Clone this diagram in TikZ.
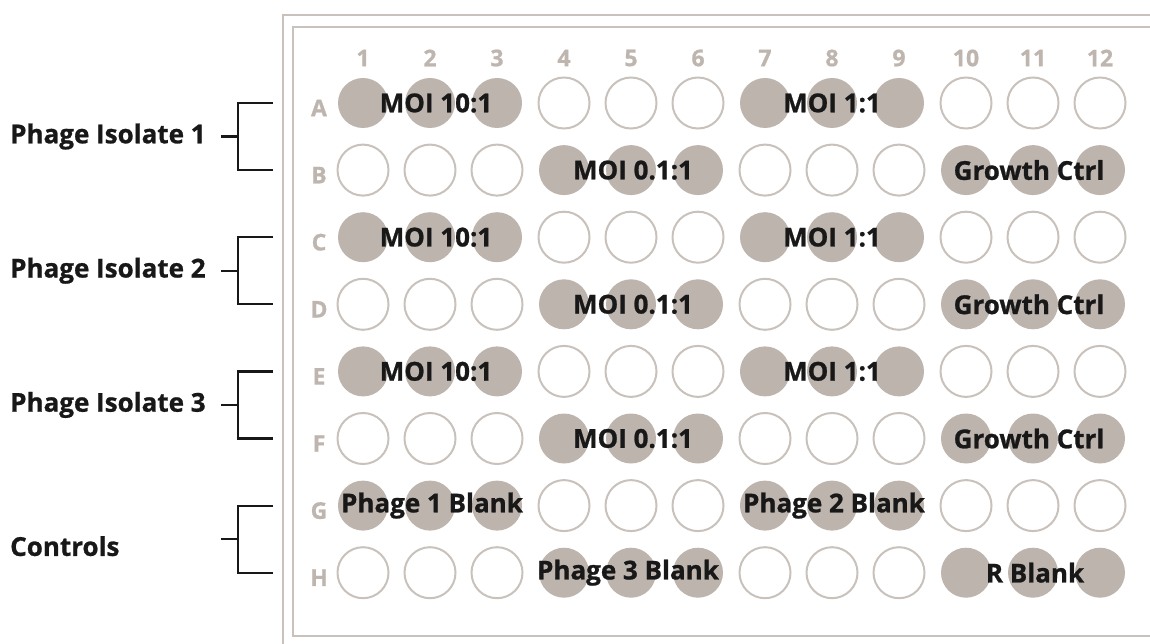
\documentclass[tikz,border=0pt]{standalone}
\usepackage{fontspec}
\setmainfont{Open Sans}[BoldFeatures={FakeBold=0.9}]
\usetikzlibrary{calc}
\definecolor{wellfill}{RGB}{189,180,174}
\definecolor{plateline}{RGB}{200,193,188}
\definecolor{indexgray}{RGB}{190,181,175}
\definecolor{ink}{RGB}{24,24,24}
\tikzset{
  wellfull/.style={circle, fill=wellfill, minimum size=50pt, inner sep=0pt},
  wellempty/.style={circle, draw=plateline, line width=2pt, minimum size=51pt, inner sep=0pt},
  welltext/.style={text=ink, font=\bfseries\fontsize{26}{26}\selectfont, inner sep=0pt},
  indexlabel/.style={text=indexgray, font=\bfseries\fontsize{23}{23}\selectfont, inner sep=0pt},
  grouplabel/.style={text=ink, font=\bfseries\fontsize{26}{26}\selectfont, inner sep=0pt, anchor=west},
  frame/.style={plateline, line width=2.5pt},
  bracketline/.style={ink, line width=2.2pt}
}
\begin{document}
\begin{tikzpicture}[x=1pt, y=-1pt]
\useasboundingbox (0,0) rectangle (1150,644);

% plate outline, outer and inner rim
\draw[frame] (1160,15) -- (283,15) -- (283,660);
\draw[frame] (1160,27) -- (293,27) -- (293,636) -- (1160,636);

% column numbers
\foreach \c in {1,...,12} {
  \node[indexlabel] (col\c) at ({363+67*(\c-1)},58) {\c};
}
% row letters and wells
\foreach \L [count=\i from 1] in {A,B,C,D,E,F,G,H} {
  \node[indexlabel] (row\L) at (319,{108+67.1*(\i-1)}) {\L};
  \foreach \c in {1,...,12} {
    \pgfmathtruncatemacro{\blk}{mod(floor((\c-1)/3)+\i+1,2)}
    \ifnum\blk=0
      \node[wellfull] (w\L\c) at ({363+67*(\c-1)},{103+67.1*(\i-1)}) {};
    \else
      \node[wellempty] (w\L\c) at ({363+67*(\c-1)},{103+67.1*(\i-1)}) {};
    \fi
  }
}

% treatment labels over filled wells
\foreach \L in {A,C,E} {
  \node[welltext] at ([xshift=6pt]w\L2) {MOI 10:1};
  \node[welltext] at ([xshift=0pt]w\L8) {MOI 1:1};
}
\foreach \L in {B,D,F} {
  \node[welltext] at ([xshift=2pt]w\L5) {MOI 0.1:1};
  \node[welltext] at ([xshift=-4pt]w\L11) {Growth Ctrl};
}
\node[welltext] at ([xshift=2pt]wG2) {Phage 1 Blank};
\node[welltext] at ([xshift=2pt]wG8) {Phage 2 Blank};
\node[welltext] at ([xshift=-3pt]wH5) {Phage 3 Blank};
\node[welltext] at ([xshift=2pt]wH11) {R Blank};

% group labels with brackets
\foreach \g/\top/\bot/\dy/\txt in {1/A/B/0/Phage Isolate 1, 2/C/D/0/Phage Isolate 2, 3/E/F/0/Phage Isolate 3, 4/G/H/7/Controls} {
  \coordinate (bt\g) at ($(273,0)!(w\top1)!(273,10)$);
  \coordinate (bb\g) at ($(273,0)!(w\bot1)!(273,10)$);
  \coordinate (bm\g) at ($(bt\g)!0.5!(bb\g)$);
  \coordinate (kt\g) at ($(bt\g)+(-35,0)$);
  \coordinate (kb\g) at ($(bb\g)+(-35,0)$);
  \coordinate (km\g) at ($(bm\g)+(-35,0)$);
  \coordinate (tk\g) at ($(bm\g)+(-52,0)$);
  \draw[bracketline] (bt\g) -- (kt\g) -- (kb\g) -- (bb\g);
  \draw[bracketline] (tk\g) -- (km\g);
  \node[grouplabel] (lab\g) at ($(10,0)!(bm\g)!(10,10)+(0,\dy)$) {\txt};
}
\end{tikzpicture}
\end{document}
